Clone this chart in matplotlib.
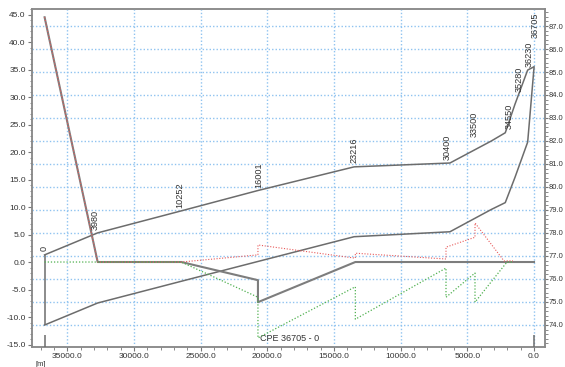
import numpy as np
import matplotlib
matplotlib.use("Agg")
import matplotlib.pyplot as plt
from matplotlib.ticker import MultipleLocator, FormatStrFormatter

plt.rcParams["font.family"] = ["Liberation Sans", "DejaVu Sans"]

# pipeline length, chainage of the stations along the route
TOTAL = 36705
station_chainage = [0, 3980, 10252, 16001, 23216, 30400, 33500, 34550, 35280, 36230, 36705]
upper_m = [1.3, 5.3, 9.3, 13.0, 17.3, 18.0, 22.0, 23.5, 28.7, 34.9, 35.5]
lower_m = [-11.45, -7.45, -3.5, 0.1, 4.6, 5.5, 9.55, 10.8, 15.4, 21.8, 35.3]

# pressure / surge lines, x in metres along the axis
press_x = [36705, 32725, 26453, 20704, 20704, 13400, 0]
press_y = [44.5, 0.0, 0.0, -3.3, -7.3, 0.0, 0.0]

max_x = [36705, 32725, 26453, 20704, 20704, 13400, 13400, 6600, 6600, 4425, 4425, 2250, 1575]
max_y = [44.5, 0.0, 0.0, 1.3, 3.1, 0.7, 1.6, 0.55, 2.7, 4.5, 7.1, 0.2, 0.2]

min_x = [36705, 26453, 20704, 20704, 13400, 13400, 6600, 6600, 4425, 4425, 2025, 1575]
min_y = [0.0, 0.0, -6.4, -13.8, -4.5, -10.4, -1.1, -6.4, -2.0, -7.3, 0.0, 0.0]

# label offsets (points) for the station numbers
label_dx = [0, -2, -1, 1, 0, -2, -12, 3, 3, 1, 1]
label_dy = [3, 2, 2, 2, 3, 2, 3, 3, 9, 2, 21]

station_x = [TOTAL - c for c in station_chainage]

GREY = "#6c6c6c"
GRID = "#8fc3f0"

fig = plt.figure(figsize=(5.65, 3.67), dpi=100)
ax = fig.add_axes([32 / 565, 20 / 367, 513 / 565, 338 / 367])
ax2 = ax.twinx()
ax.set_zorder(ax2.get_zorder() + 1)
ax.patch.set_visible(False)

ax.set_xlim(37650, -825)
ax.set_ylim(-15.45, 46.0)
ax2.set_ylim(73.04, 87.74)

ax.xaxis.set_major_locator(MultipleLocator(5000))
ax.xaxis.set_minor_locator(MultipleLocator(1000))
ax.xaxis.set_major_formatter(FormatStrFormatter("%.1f"))
ax.yaxis.set_major_locator(MultipleLocator(5))
ax.yaxis.set_minor_locator(MultipleLocator(1))
ax.yaxis.set_major_formatter(FormatStrFormatter("%.1f"))
ax2.yaxis.set_major_locator(MultipleLocator(1))
ax2.yaxis.set_minor_locator(MultipleLocator(0.2))
ax2.yaxis.set_major_formatter(FormatStrFormatter("%.1f"))

ax.grid(axis="x", color=GRID, linestyle=(0, (1, 1.5)), linewidth=1.0)
ax.set_axisbelow(True)
ax2.grid(axis="y", color=GRID, linestyle=(0, (1, 1.5)), linewidth=1.0)

for a in (ax, ax2):
    for s in a.spines.values():
        s.set_color("#8a8a8a")
        s.set_linewidth(1.1)
    a.tick_params(which="major", length=3, width=0.8, color="#777777",
                  labelsize=6, labelcolor="#333333", pad=1.5)
    a.tick_params(which="minor", length=1.8, width=0.6, color="#777777")
ax2.tick_params(which="major", length=2, labelsize=5.4, pad=0.8)

# profile lines
ax.plot(station_x, upper_m, color=GREY, lw=1.1, zorder=3)
ax.plot(station_x, lower_m, color=GREY, lw=1.1, zorder=3)
ax.vlines(station_x[0], lower_m[0], upper_m[0], color=GREY, lw=1.1, zorder=3)
ax.vlines([station_x[0], station_x[-1]], -13.3, -15.45, color=GREY, lw=1.1, zorder=3)

ax.plot(press_x, press_y, color="#7d7d7d", lw=1.5, zorder=3)
ax.plot(max_x, max_y, color="#e85a5a", lw=0.8, linestyle=(0, (1, 1.5)), zorder=4)
ax.plot(min_x, min_y, color="#4fb04f", lw=0.9, linestyle=(0, (1, 1.5)), zorder=4)

for x, y, lab, dx, dy in zip(station_x, upper_m, station_chainage, label_dx, label_dy):
    ax.annotate(str(lab), xy=(x, y), xytext=(dx, dy), textcoords="offset points",
                rotation=90, ha="center", va="bottom", fontsize=6.6, color="#333333")

ax.text(0.503, 0.024, "CPE 36705 - 0", transform=ax.transAxes,
        ha="center", va="center", fontsize=6.5, color="#333333")
fig.text(35 / 565, 6 / 367, "[m]", ha="left", va="top", fontsize=5.5, color="#333333")

fig.savefig("out.png", dpi=100)
